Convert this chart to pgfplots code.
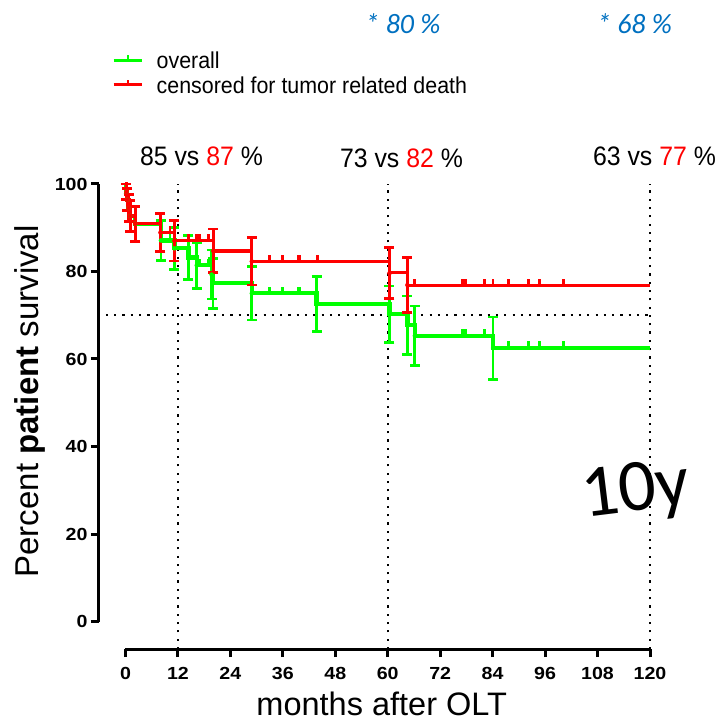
\documentclass[border=0pt]{standalone}
\usepackage{pgfplots}
\pgfplotsset{compat=1.18}
\usepackage{fontspec}
\setmainfont{Liberation Sans}
\newfontfamily\tickfont[FakeStretch=1.12]{Liberation Sans}
\newfontfamily\condfont[FakeStretch=0.93]{Liberation Sans}
\newfontfamily\calibri{Carlito}
\definecolor{kmgreen}{RGB}{0,255,0}
\definecolor{kmred}{RGB}{255,0,0}
\definecolor{annblue}{RGB}{0,112,192}
\pgfdeclareplotmark{cens}{\pgfpathmoveto{\pgfqpoint{0pt}{0pt}}\pgfpathlineto{\pgfqpoint{0pt}{6.5pt}}\pgfusepathqstroke}
\begin{document}
\begin{tikzpicture}
\path[use as bounding box] (-125.5pt,-99.5pt) rectangle (594.5pt,621.5pt);
\begin{axis}[
  at={(0pt,0pt)}, anchor=south west,
  scale only axis, width=524.5pt, height=437.5pt,
  xmin=0, xmax=120, ymin=0, ymax=100,
  axis x line*=bottom, axis y line*=left,
  axis x line shift=27.5pt, axis y line shift=26.5pt,
  axis line style={line width=3pt, -},
  xtick={0,12,...,120}, ytick={0,20,...,100},
  minor tick num=0,
  tick align=outside, major tick length=8pt,
  tick style={line width=3pt, black},
  /pgf/number format/assume math mode=true,
  ticklabel style={font=\tickfont\bfseries\fontsize{17.5}{17.5}\selectfont},
  xticklabel style={yshift=-7pt},
  clip=false,
  xlabel={months after OLT},
  xlabel style={at={(axis description cs:0.4885,-0.2153)}, anchor=base, font=\fontsize{32.5}{33}\selectfont},
  ylabel={Percent \textbf{patient} survival},
  ylabel style={at={(axis description cs:-0.1668,0.5029)}, anchor=base, font=\fontsize{33}{34}\selectfont},
  legend style={at={(axis description cs:-0.0257,1.3015)}, anchor=north west,
    draw=none, fill=none, inner xsep=0pt, inner ysep=0pt, outer sep=0pt,
    nodes={inner sep=0pt, text depth=0pt}, cells={anchor=west},
    row sep=8.3pt, column sep=13pt,
    font=\condfont\fontsize{23}{23}\selectfont},
  legend image code/.code={\draw[#1, line width=3pt] (0pt,0.4pt) -- (28.7pt,0.4pt); \draw[#1, line width=2.5pt] (14.35pt,0.4pt) -- (14.35pt,5.7pt);},
]
% reference lines
\addplot[forget plot, black, line width=2.2pt, dash pattern=on 2.2pt off 6.1pt] coordinates {(12,-6.3) (12,100)};
\addplot[forget plot, black, line width=2.2pt, dash pattern=on 2.2pt off 6.1pt] coordinates {(60,-6.3) (60,100)};
\addplot[forget plot, black, line width=2.2pt, dash pattern=on 2.2pt off 6.1pt] coordinates {(120,-6.3) (120,100)};
\addplot[forget plot, black, line width=2.2pt, dash pattern=on 2.2pt off 6.1pt] coordinates {(-4.5,70) (120,70)};
% overall (green)
\addplot[forget plot, only marks, mark=none, kmgreen,
  error bars/.cd, y dir=both, y explicit,
  error bar style={kmgreen, line width=2.8pt},
  error mark options={rotate=90, kmgreen, line width=2.8pt, mark size=5pt}]
  coordinates {
  (0.2,98.2) +- (0,1.8)
  (0.4,96.4) +- (0,2.5)
  (0.7,94.5) +- (0,3.1)
  (1.1,92.7) +- (0,3.5)
  (2.2,90.9) +- (0,4.0)
  (8.1,87.1) +- (0,4.6)
  (11.2,85.3) +- (0,4.8)
  (14.4,83.2) +- (0,5.1)
  (16.3,81.4) +- (0,5.3)
  (19.7,79.3) +- (0,5.6)
  (20.0,77.3) +- (0,5.7)
  (28.9,75.0) +- (0,6.1)
  (43.7,72.5) +- (0,6.3)
  (60.4,70.2) +- (0,6.5)
  (64.5,67.7) +- (0,6.7)
  (66.2,65.3) +- (0,6.8)
  (84.1,62.5) +- (0,7.1)
  };
\addplot[const plot, kmgreen, line width=4.2pt] coordinates {
  (0,100) (0.2,98.2) (0.4,96.4) (0.7,94.5) (1.1,92.7) (2.2,90.9)
  (8.1,87.1) (11.2,85.3) (14.4,83.2) (16.3,81.4) (19.7,79.3) (20.0,77.3)
  (28.9,75.0) (43.7,72.6) (60.4,70.2) (64.5,67.8) (66.2,65.3) (84.1,62.6) (120,62.6)};
\addlegendentry{overall}
\addplot[forget plot, only marks, mark=cens, kmgreen, mark options={line width=2.8pt}] coordinates {
  (10.2,87.1) (16.9,81.4) (18.9,81.4)
  (32.9,75.0) (35.9,75.0) (39.5,75.0) (39.9,75.0)
  (77.1,65.3) (77.8,65.3) (82.2,65.3)
  (87.6,62.6) (92.2,62.6) (94.7,62.6) (100.2,62.6)};
% censored for tumor related death (red)
\addplot[forget plot, only marks, mark=none, kmred,
  error bars/.cd, y dir=both, y explicit,
  error bar style={kmred, line width=2.8pt},
  error mark options={rotate=90, kmred, line width=2.8pt, mark size=5pt}]
  coordinates {
  (0.2,98.2) +- (0,1.8)
  (0.4,96.4) +- (0,2.5)
  (0.7,94.5) +- (0,3.1)
  (1.1,92.7) +- (0,3.5)
  (2.2,90.9) +- (0,4.0)
  (8.0,88.9) +- (0,4.4)
  (11.2,87.0) +- (0,4.6)
  (20.1,84.7) +- (0,5.0)
  (28.9,82.3) +- (0,5.4)
  (60.4,79.6) +- (0,5.85)
  (64.5,76.9) +- (0,6.25)
  };
\addplot[const plot, kmred, line width=3.2pt] coordinates {
  (0,100) (0.2,98.2) (0.4,96.4) (0.7,94.5) (1.1,92.7) (2.2,90.9)
  (8.0,88.9) (11.2,87.0) (20.1,84.7) (28.9,82.3) (60.4,79.7) (64.5,76.8) (120,76.8)};
\addlegendentry{censored for tumor related death}
\addplot[forget plot, only marks, mark=cens, kmred, mark options={line width=2.8pt}] coordinates {
  (10.2,88.9) (14.4,87.0) (16.3,87.0) (16.9,87.0) (18.9,87.0)
  (32.9,82.3) (35.9,82.3) (39.5,82.3) (39.9,82.3) (43.9,82.3)
  (66.2,76.8) (77.1,76.8) (77.8,76.8) (82.2,76.8) (84.1,76.8)
  (87.6,76.8) (92.2,76.8) (94.7,76.8) (100.2,76.8)};
\end{axis}
\node[anchor=base, font=\condfont\fontsize{26.7}{27}\selectfont] at (76pt,455.8pt) {85 vs \textcolor{kmred}{87} \%};
\node[anchor=base, font=\condfont\fontsize{26.7}{27}\selectfont] at (276pt,453.5pt) {73 vs \textcolor{kmred}{82} \%};
\node[anchor=base, font=\condfont\fontsize{26.7}{27}\selectfont] at (529pt,456pt) {63 vs \textcolor{kmred}{77} \%};
\node[font=\calibri\itshape\fontsize{28}{28}\selectfont, text=annblue] at (277.5pt,597.5pt) {* 80 \%};
\node[font=\calibri\itshape\fontsize{28}{28}\selectfont, text=annblue] at (509pt,597.5pt) {* 68 \%};
\node[font=\calibri\fontsize{74}{74}\selectfont, rotate=7, inner sep=0pt] at (510.5pt,128.5pt) {10y};
\end{tikzpicture}
\end{document}
